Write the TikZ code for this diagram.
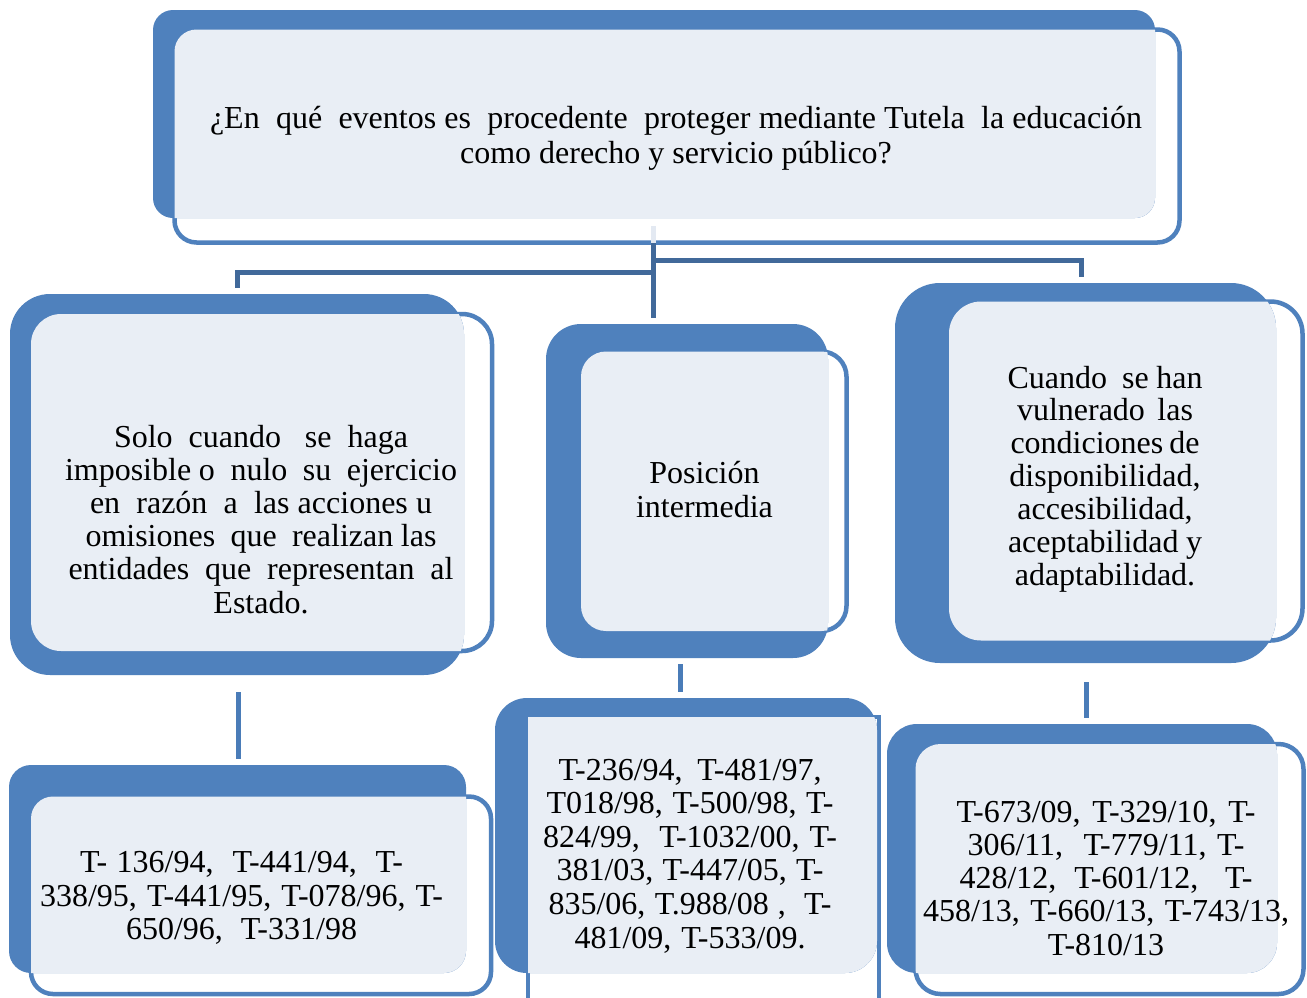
\documentclass[tikz,border=0pt]{standalone}
\usepackage{fontspec}
\setmainfont{Liberation Serif}
\definecolor{cblue}{HTML}{4F81BD}
\definecolor{clight}{HTML}{E9EEF5}
\definecolor{cconn}{HTML}{41699A}
\definecolor{cconnb}{HTML}{4A7CB8}
\definecolor{cseg}{HTML}{E3E9F2}
\newcommand\sz[1]{\fontsize{32}{#1}\selectfont}
\newcommand\myjl[2]{\strut\makebox[#1pt][s]{#2}}
\tikzset{
  backbox/.style={fill=cblue, draw=none, inner sep=0pt, outer sep=0pt},
  frontbox/.style={fill=white, draw=cblue, line width=4.5pt, inner sep=0pt, outer sep=0pt},
  txt/.style={align=center, inner sep=0pt, outer sep=0pt, anchor=north, text=black},
  conn/.style={draw=cconn, line width=5pt},
  connb/.style={draw=cconnb, line width=5pt},
  connseg/.style={draw=cseg, line width=5pt},
}
\begin{document}
\begin{tikzpicture}[x=1pt,y=-1pt]
\useasboundingbox (0,0) rectangle (1307,997);
\clip (0,0) rectangle (1307,997);
\fill[white] (0,0) rectangle (1307,997);

% ---------- top box ----------
\node[frontbox, rounded corners=22pt, minimum width=1005pt, minimum height=213pt] (Tf) at (677,136) {};
\node[backbox, rounded corners=20pt, minimum width=1002pt, minimum height=208pt] (Tb) at (654,114) {};
\begin{scope}
  \clip[rounded corners=20pt] (Tb.north west) rectangle (Tb.south east);
  \fill[clight, rounded corners=22pt] (Tf.north west) rectangle (Tf.south east);
\end{scope}

% ---------- level 1 ----------
\node[frontbox, rounded corners=30pt, minimum width=461pt, minimum height=337pt] (L1f) at (261.5,482.5) {};
\node[backbox, rounded corners=40pt, minimum width=454pt, minimum height=381pt] (L1b) at (237,484.5) {};
\begin{scope}
  \clip[rounded corners=40pt] (L1b.north west) rectangle (L1b.south east);
  \fill[clight, rounded corners=30pt] (L1f.north west) rectangle (L1f.south east);
\end{scope}

\node[frontbox, rounded corners=25pt, minimum width=265.5pt, minimum height=279.5pt] (M1f) at (713.75,491.25) {};
\node[backbox, rounded corners=35pt, minimum width=282pt, minimum height=334pt] (M1b) at (687,491) {};
\begin{scope}
  \clip[rounded corners=35pt] (M1b.north west) rectangle (M1b.south east);
  \fill[clight, rounded corners=25pt] (M1f.north west) rectangle (M1f.south east);
\end{scope}

\node[frontbox, rounded corners=32pt, minimum width=353.5pt, minimum height=339pt] (R1f) at (1125.75,471) {};
\node[backbox, rounded corners=45pt, minimum width=381pt, minimum height=380pt] (R1b) at (1085.5,473) {};
\begin{scope}
  \clip[rounded corners=45pt] (R1b.north west) rectangle (R1b.south east);
  \fill[clight, rounded corners=32pt] (R1f.north west) rectangle (R1f.south east);
\end{scope}

% ---------- level 2 ----------
\node[frontbox, rounded corners=22pt, minimum width=460pt, minimum height=197.5pt] (L2f) at (261,895.25) {};
\node[backbox, rounded corners=22pt, minimum width=457pt, minimum height=208pt] (L2b) at (237.5,869) {};
\begin{scope}
  \clip[rounded corners=22pt] (L2b.north west) rectangle (L2b.south east);
  \fill[clight, rounded corners=22pt] (L2f.north west) rectangle (L2f.south east);
\end{scope}

\node[frontbox, minimum width=351pt, minimum height=313pt] (M2f) at (703.5,873.5) {};
\node[backbox, rounded corners=32pt, minimum width=382pt, minimum height=275pt] (M2b) at (686,835.5) {};
\begin{scope}
  \clip[rounded corners=32pt] (M2b.north west) rectangle (M2b.south east);
  \fill[clight] (M2f.north west) rectangle (M2f.south east);
\end{scope}

\node[frontbox, rounded corners=25pt, minimum width=388pt, minimum height=250pt] (R2f) at (1109.5,869) {};
\node[backbox, rounded corners=30pt, minimum width=390pt, minimum height=249pt] (R2b) at (1082,848.5) {};
\begin{scope}
  \clip[rounded corners=30pt] (R2b.north west) rectangle (R2b.south east);
  \fill[clight, rounded corners=25pt] (R2f.north west) rectangle (R2f.south east);
\end{scope}

% ---------- connectors ----------
\coordinate (cTop) at (653,226);
\coordinate (cTopB) at (653,243);
\coordinate (cMid) at (653,318);
\coordinate (cLj) at (653,272);
\coordinate (cL) at (237,288);
\coordinate (cRj) at (653,260);
\coordinate (cR) at (1081,277);
\draw[connseg] (cTop) -- (cTopB);
\draw[conn] (cTopB) -- (cMid);
\draw[conn] (cLj) -| (cL);
\draw[conn] (cRj) -| (cR);

\coordinate (dL1) at (238,692);
\coordinate (dL2) at (238,759);
\coordinate (dM1) at (680,664);
\coordinate (dM2) at (680,692);
\coordinate (dR1) at (1086,682);
\coordinate (dR2) at (1086,718);
\draw[connb] (dL1) -- (dL2);
\draw[connb] (dM1) -- (dM2);
\draw[connb] (dR1) -- (dR2);

% ---------- texts ----------
\node[txt, font=\sz{35}] (Tt) at (676,103.5)
  {\myjl{932}{¿En\ \ qué\ \ eventos es\ \ procedente\ \ proteger mediante Tutela\ \ la educación}\\
   \strut como derecho y servicio público?};

\node[txt, font=\sz{33.2}] (L1t) at (261,423.8)
  {\myjl{294}{Solo\ \ cuando\ \ \ se\ \ haga}\\
   \myjl{392}{imposible o\ \ nulo\ \ su\ \ ejercicio}\\
   \myjl{342}{en\ \ razón\ \ a\ \ las acciones u}\\
   \myjl{351}{omisiones\ \ que\ \ realizan las}\\
   \myjl{385}{entidades\ \ que\ \ representan\ \ al}\\
   \strut Estado.};

\node[txt, font=\sz{34}] (M1t) at (704.5,459.2)
  {\strut Posición\\ \strut intermedia};

\node[txt, font=\sz{32.9}] (R1t) at (1105,365)
  {\myjl{195}{Cuando\ \ se han}\\
   \myjl{176}{vulnerado\ \ las}\\
   \myjl{189}{condiciones de}\\
   \strut disponibilidad,\\
   \strut accesibilidad,\\
   \myjl{194}{aceptabilidad y}\\
   \strut adaptabilidad.};

\node[txt, font=\sz{33.5}] (L2t) at (241.5,849.5)
  {\myjl{323}{T- 136/94,\ \ T-441/94,\ \ T-}\\
   \myjl{403}{338/95, T-441/95, T-078/96, T-}\\
   \myjl{231}{650/96,\ \ T-331/98}};

\node[txt, font=\sz{33.6}] (M2t) at (690,756.5)
  {\myjl{263}{T-236/94, T-481/97,}\\
   \myjl{287}{T018/98, T-500/98, T-}\\
   \myjl{294}{824/99,\ \ T-1032/00, T-}\\
   \myjl{267}{381/03, T-447/05, T-}\\
   \myjl{283}{835/06, T.988/08 ,\ \ T-}\\
   \myjl{231}{481/09, T-533/09.}};

\node[txt, font=\sz{33.3}] (R2t) at (1106,798.7)
  {\myjl{299}{T-673/09, T-329/10, T-}\\
   \myjl{277}{306/11,\ \ T-779/11, T-}\\
   \myjl{293}{428/12,\ \ T-601/12,\ \ \ T-}\\
   \myjl{366}{458/13, T-660/13, T-743/13,}\\
   \strut T-810/13};
\end{tikzpicture}
\end{document}
